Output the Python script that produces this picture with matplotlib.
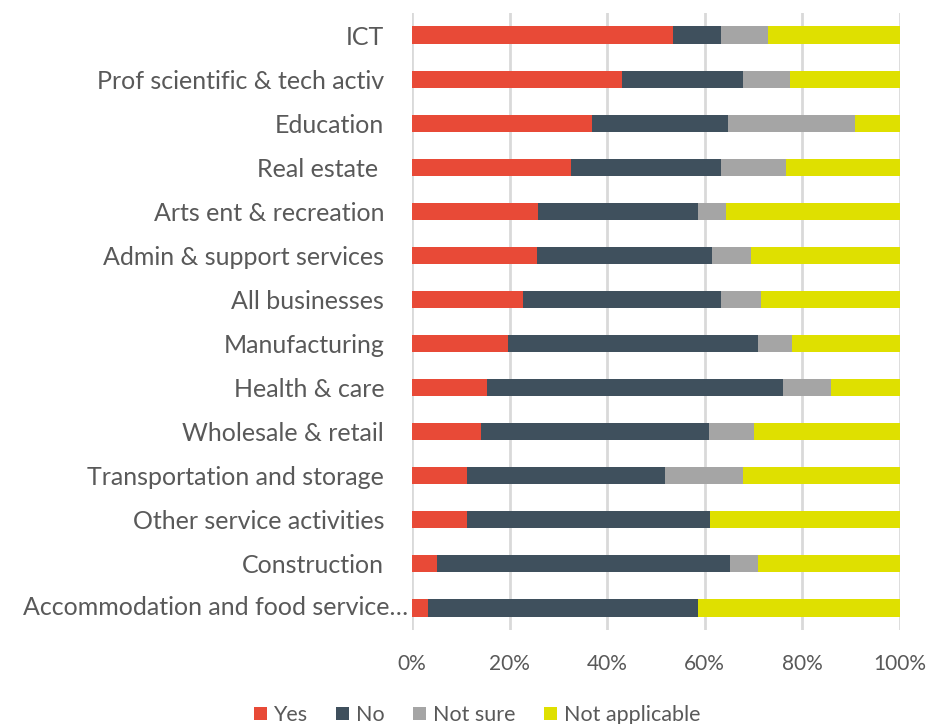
import matplotlib.pyplot as plt
import numpy as np

# sectors, top to bottom as shown
sectors = ['ICT', 'Prof scientific & tech activ', 'Education', 'Real estate ',
           'Arts ent & recreation', 'Admin & support services', 'All businesses',
           'Manufacturing', 'Health & care', 'Wholesale & retail',
           'Transportation and storage', 'Other service activities',
           'Construction', 'Accommodation and food service\u2026']

yes = [53.5, 43.0, 36.9, 32.5, 25.8, 25.6, 22.8, 19.6, 15.4, 14.1, 11.2, 11.2, 5.1, 3.3]
no = [9.9, 24.9, 27.8, 30.9, 32.9, 35.8, 40.6, 51.2, 60.7, 46.7, 40.7, 49.9, 60.0, 55.4]
not_sure = [9.5, 9.5, 26.1, 13.2, 5.7, 8.1, 8.2, 7.1, 9.7, 9.2, 16.0, 0.0, 5.9, 0.0]
not_applicable = [27.1, 22.6, 9.2, 23.4, 35.6, 30.5, 28.4, 22.1, 14.2, 30.0, 32.1, 38.9, 29.0, 41.3]

series = [('Yes', yes, '#E84A37'), ('No', no, '#3F505D'),
          ('Not sure', not_sure, '#A5A5A5'), ('Not applicable', not_applicable, '#DFE000')]

plt.rcParams['font.family'] = ['Lato', 'DejaVu Sans']
text_col = '#595959'

fig = plt.figure(figsize=(9.28, 7.24), dpi=100)
ax = fig.add_axes([412 / 928, 1 - 630 / 724, 488 / 928, 617 / 724])

y = np.arange(len(sectors))
left = np.zeros(len(sectors))
for name, vals, col in series:
    vals = np.array(vals)
    ax.barh(y, vals, left=left, height=0.39, color=col, label=name, zorder=3)
    left += vals

ax.set_ylim(len(sectors) - 0.5, -0.5)
ax.set_xlim(0, 100)
ax.set_yticks(y)
# the truncated last label sits closer to the axis (like Excel does it)
ax.set_yticklabels(sectors[:-1] + [''], fontsize=18, color=text_col)
ax.annotate(sectors[-1], xy=(0, y[-1]), xycoords=('axes fraction', 'data'),
            xytext=(-3, 0), textcoords='offset points', ha='right', va='center',
            fontsize=18, color=text_col)
ax.set_xticks(np.arange(0, 101, 20))
ax.set_xticklabels([f'{v}%' for v in range(0, 101, 20)], fontsize=15, color=text_col)
ax.tick_params(axis='y', length=0, pad=20)
ax.tick_params(axis='x', length=0, pad=17)
ax.grid(axis='x', color='#D9D9D9', linewidth=2, zorder=0)
for s in ax.spines.values():
    s.set_visible(False)

fig.legend(loc='center', bbox_to_anchor=(477 / 928, 1 - 715 / 724), ncol=4,
           frameon=False, fontsize=15.5, handlelength=0.6, handleheight=0.6,
           handletextpad=0.3, columnspacing=1.35, labelcolor=text_col,
           borderpad=0, borderaxespad=0)

fig.savefig('out.png', dpi=100)
